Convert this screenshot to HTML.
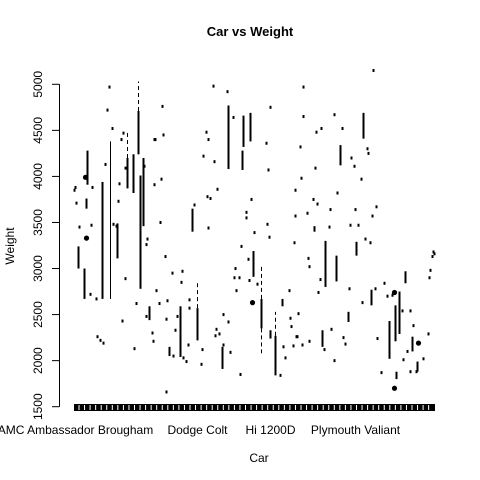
<!DOCTYPE html>
<html><head><meta charset="utf-8"><style>
html,body{margin:0;padding:0;background:#fff}
svg{display:block;font-family:"Liberation Sans",Arial,sans-serif}
</style></head><body>
<svg id="chart" width="480" height="480" viewBox="0 0 480 480" xmlns="http://www.w3.org/2000/svg">
<rect x="0" y="0" width="480" height="480" fill="#fff"/>
<text x="250" y="36" text-anchor="middle" font-size="13" font-weight="bold">Car vs Weight</text>
<text x="259" y="462" text-anchor="middle" font-size="12">Car</text>
<text transform="translate(14,246) rotate(-90)" text-anchor="middle" font-size="12">Weight</text>
<g id="yaxis"></g>
<g id="xaxis"></g>
<g id="marks"></g>
</svg>
<script>
const yTicks = [1500, 2000, 2500, 3000, 3500, 4000, 4500, 5000];
const xLabelText = ["AMC Ambassador Brougham", "Dodge Colt", "Hi 1200D", "Plymouth Valiant"];
const xLabelCat = [1, 123, 196, 281];
const nCats = 361;
// boxes: category index, q1, q3
const boxCat = [4,10,13,12,28,36,43,53,59,64,66,69,75,95,106,118,123,148,154,168,169,176,179,187,196,201,208,240,248,251,262,266,274,282,289,297,315,321,322,325,331,338,343];
const boxLo  = [3000,2670,3910,3650,2670,2670,3110,3870,3820,4240,2780,3460,2440,2050,2040,3400,2220,1910,4080,4070,4320,4380,2910,2350,2240,1840,2590,3400,2150,2800,2860,4120,2420,3140,4410,2600,2020,2210,1800,2290,2840,2100,1880];
const boxHi  = [3240,3000,4280,3760,3940,4380,3490,4200,4240,4710,4010,4200,2590,2150,2590,3650,2570,2150,4770,4280,4660,4690,3190,2670,2330,2270,2670,3460,2330,3300,3140,4340,2530,3290,4690,2770,2430,2600,1880,2750,2970,2260,1990];
const thinCat = [36];
const whiskCat = [53,64,123,187,187,201];
const whiskFrom = [4200,4710,2570,2670,2350,2270];
const whiskTo = [4490,5030,2840,3020,2080,2530];
// outliers
const outCat = [11,12,178,320,344,320];
const outW = [3990,3330,2630,2740,2190,1700];
// single-observation cars
const ptCat = [139,153,88,159,196,132,134,89,80,192,129,140,194,70,87,80,143,133,136,221,177,120,172,172,221,86,193,134,180,195,73,72,220,167,91,174,108,98,161,160,165,175,107,183,82,162,215,93,115,85,115,149,224,92,103,154,216,217,101,142,145,141,78,222,79,114,128,149,156,209,219,99,109,112,127,211,166,92,206,
299,229,229,260,247,242,268,226,293,294,277,280,241,227,287,263,239,243,302,281,256,233,298,276,284,255,291,296,359,234,235,356,355,246,310,275,301,244,318,313,288,336,328,257,339,354,223,228,235,269,271,303,250,333,329,349,260,307,336,342,
35,33,38,49,47,81,31,51,1,0,18,45,2,44,17,5,39,42,16,23,26,29,51,62,48,60,22,72,360,358];
const ptW = [4980,4920,4760,4640,4750,4480,4400,4450,4400,4360,4220,4160,4070,4110,3970,3910,3860,3780,3760,3850,3750,3690,3610,3550,3570,3500,3480,3440,3390,3340,3320,3260,3280,3240,3130,3100,2970,2950,3000,2900,2900,2870,2850,2830,2760,2760,2760,2650,2660,2620,2570,2500,2510,2450,2480,2420,2460,2370,2330,2340,2290,2270,2300,2260,2210,2170,2120,2170,2090,2150,2160,2050,2030,1990,1960,2030,1850,1660,1840,
5150,4970,4650,4670,4520,4480,4520,4320,4300,4250,4200,4110,4090,3980,3970,3820,3750,3700,3670,3640,3640,3600,3570,3470,3470,3450,3320,3280,3180,3110,3020,2980,2900,2880,2840,2780,2780,2740,2710,2700,2630,2540,2540,2340,2380,2290,2260,2170,2210,2250,2180,2240,2120,2100,2010,2020,2000,1870,1880,1880,
4970,4720,4520,4470,4400,4400,4130,4090,3880,3850,3880,3920,3710,3730,3470,3450,3480,3460,2720,2260,2220,2190,2890,2620,2430,2130,2670,2480,3160,3130];

const X0 = 74, X1 = 435, Y0 = 406.7, Y1 = 84.3;
function xs(i){ return X0 + (i + 0.5) * (X1 - X0) / nCats; }
function ys(w){ return Y0 - (w - 1500) * (Y0 - Y1) / 3500; }
const NS = "http://www.w3.org/2000/svg";
function mk(tag, attrs, parent){
  const e = document.createElementNS(NS, tag);
  for (const k in attrs) e.setAttribute(k, attrs[k]);
  parent.appendChild(e);
  return e;
}
const ya = document.getElementById('yaxis');
const yl = mk('line', {x1:59.5, x2:59.5, y1:ys(yTicks[0]), y2:ys(yTicks[yTicks.length-1]), stroke:'#000'}, ya);


yTicks.forEach(v => {
  const t = mk('line', {x1:52, x2:59.5, y1:ys(v), y2:ys(v), stroke:'#000'}, ya);
  
  
  const tx = mk('text', {transform:`translate(42,${ys(v)}) rotate(-90)`, 'text-anchor':'middle', 'font-size':12}, ya);
  tx.textContent = v;
  
  
});
const xa = document.getElementById('xaxis');
const band = mk('rect', {x:X0, y:404, width:X1 - X0, height:7, fill:'#000'}, xa);


for (let gx = X0 + 4.5; gx < X1 - 2; gx += 5.55) {
  const g = mk('rect', {x:gx, y:405, width:1, height:5, fill:'#fff'}, xa);
  
  
}
xLabelText.forEach((s, k) => {
  const tx = mk('text', {x:xs(xLabelCat[k]), y:434, 'text-anchor':'middle', 'font-size':12}, xa);
  tx.textContent = s;
  
  
});
const mg = document.getElementById('marks');
whiskCat.forEach((c, k) => {
  const l = mk('line', {x1:xs(c), x2:xs(c), y1:ys(whiskFrom[k]), y2:ys(whiskTo[k]), stroke:'#000', 'stroke-width':1, 'stroke-dasharray':'4,3'}, mg);
  
  
});
boxCat.forEach((c, k) => {
  const w = thinCat.includes(c) ? 1 : 2;
  const r = mk('rect', {x:xs(c) - w / 2, y:ys(boxHi[k]), width:w, height:Math.max(1, ys(boxLo[k]) - ys(boxHi[k])), fill:'#000'}, mg);
  
  
});
ptCat.forEach((c, k) => {
  const r = mk('rect', {x:xs(c) - 1, y:ys(ptW[k]) - 1.5, width:2, height:3, fill:'#000'}, mg);
  
  
});
outCat.forEach((c, k) => {
  const o = mk('circle', {cx:xs(c), cy:ys(outW[k]), r:2.6, fill:'#000'}, mg);
  
  
});
</script>
</body></html>
